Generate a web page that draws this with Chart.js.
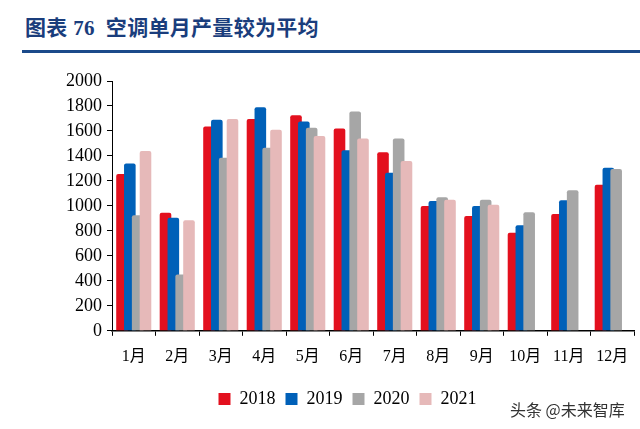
<!DOCTYPE html>
<html>
<head>
<meta charset="utf-8">
<script src="https://cdn.jsdelivr.net/npm/chart.js@4"></script>
<style>
  body { margin: 0; width: 640px; height: 429px; background: #fff; position: relative; overflow: hidden; }
  #title { position: absolute; left: 25px; top: 11px; font: bold 21px "Liberation Serif", "Noto Sans CJK SC", serif; color: #1a3d7c; letter-spacing: 0.3px; }
  #rule { position: absolute; left: 22px; right: 0; top: 50px; height: 3px; background: #1b4a8a; }
  #wrap { position: absolute; left: 0; top: 60px; width: 640px; height: 369px; }
  #mark { position: absolute; left: 510px; top: 397px; font: 16px "Noto Sans CJK SC", sans-serif; color: #333; }
</style>
</head>
<body>
<div id="title">图表 76&nbsp;&nbsp;空调单月产量较为平均</div>
<div id="rule"></div>
<div id="wrap"><canvas id="myChart"></canvas></div>
<div id="mark">头条 @未来智库</div>
<script>
var months = ['1月', '2月', '3月', '4月', '5月', '6月', '7月', '8月', '9月', '10月', '11月', '12月'];
var y2018 = [1255, 945, 1635, 1695, 1725, 1620, 1430, 1000, 920, 785, 935, 1170];
var y2019 = [1340, 905, 1690, 1790, 1675, 1445, 1265, 1040, 1000, 845, 1045, 1305];
var y2020 = [925, 450, 1385, 1465, 1625, 1755, 1540, 1070, 1050, 950, 1125, 1295];
var y2021 = [1440, 885, 1695, 1610, 1560, 1540, 1360, 1050, 1010, null, null, null];

// later years drawn on top of earlier ones, like the original
var drawOrder = {
  id: 'drawOrder',
  beforeDatasetDraw: function() { return false; },
  afterDatasetsDraw: function(chart) {
    for (var i = 0; i < chart.data.datasets.length; i++) {
      chart.getDatasetMeta(i).controller.draw();
    }
  }
};

function ds(label, data, color) {
  return {
    label: label,
    data: data,
    backgroundColor: color,
    borderRadius: 2,
    categoryPercentage: 0.72,
    barPercentage: 1.48
  };
}

window.addEventListener("load", function(){
  var ctx = document.getElementById('myChart').getContext('2d');
  new Chart(ctx, {
    type: 'bar',
    data: {
      labels: months,
      datasets: [
        ds('2018', y2018, '#e3101e'),
        ds('2019', y2019, '#0060b8'),
        ds('2020', y2020, '#a6a6a6'),
        ds('2021', y2021, '#e6b9b9')
      ]
    },
    options: {
      responsive: true,
      maintainAspectRatio: false,
      animation: false,
      layout: { padding: { left: 61, right: 6, top: 21, bottom: 11 } },
      plugins: {
        tooltip: { enabled: false },
        legend: {
          position: 'bottom',
          labels: {
            boxWidth: 12, boxHeight: 12, padding: 10, color: '#000',
            font: { family: '"Liberation Serif", serif', size: 18 }
          }
        }
      },
      scales: {
        x: {
          grid: { drawOnChartArea: false, color: '#000', tickLength: 5 },
          border: { color: '#000', width: 1.5 },
          ticks: { color: '#000', padding: 11, font: { family: '"Liberation Serif", "Noto Sans CJK SC", serif', size: 16 } },
          afterFit: function(s) { s.height += 3; }
        },
        y: {
          min: 0, max: 2000,
          grid: { drawOnChartArea: false, color: '#000', tickLength: 5 },
          border: { color: '#000' },
          ticks: {
            stepSize: 200, color: '#000', padding: 5,
            font: { family: '"Liberation Serif", serif', size: 18 },
            callback: function(v) { return String(v); }
          }
        }
      }
    },
    plugins: [drawOrder]
  });
});
</script>
</body>
</html>
